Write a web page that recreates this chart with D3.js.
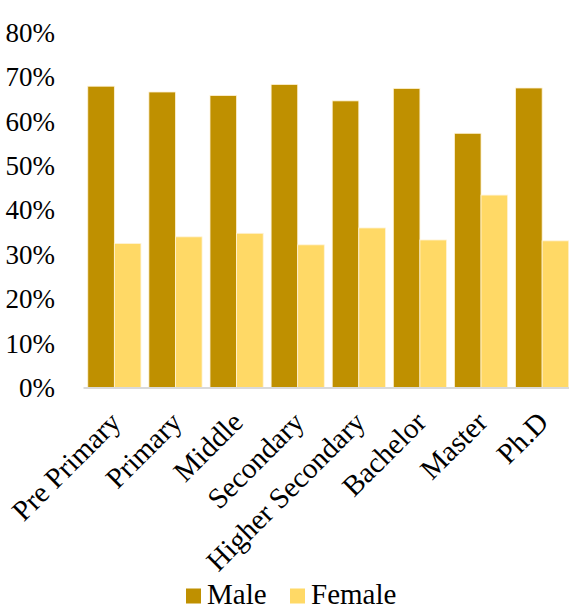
<!DOCTYPE html>
<html>
<head>
<meta charset="utf-8">
<script src="https://cdn.jsdelivr.net/npm/d3@7"></script>
<style>
  html, body { margin: 0; padding: 0; background: #fff; }
  svg { display: block; }
  text { font-family: "Liberation Serif", "Times New Roman", serif; fill: #000; }
</style>
</head>
<body>
<svg id="chart" width="569" height="610"></svg>
<script>
const categories = ["Pre Primary", "Primary", "Middle", "Secondary", "Higher Secondary", "Bachelor", "Master", "Ph.D"];
const maleValues = [0.678, 0.665, 0.657, 0.682, 0.645, 0.673, 0.572, 0.674];
const femaleValues = [0.324, 0.339, 0.347, 0.321, 0.359, 0.332, 0.433, 0.330];
const seriesNames = ["Male", "Female"];
const seriesColors = ["#BF9000", "#FFD966"];
const yTicks = [0, 0.1, 0.2, 0.3, 0.4, 0.5, 0.6, 0.7, 0.8];

const svg = d3.select("#chart");

const x = d3.scaleBand().domain(categories).range([83.5, 573]).paddingInner(0.13).paddingOuter(0.07);
const xSub = d3.scaleBand().domain(seriesNames).range([0, x.bandwidth()]);
const y = d3.scaleLinear().domain([0, 0.8]).range([387.5, 32]);

// Y axis labels
const yAxis = d3.axisLeft(y).tickValues(yTicks).tickFormat(d3.format(".0%")).tickSize(0).tickPadding(0);
const gy = svg.append("g").attr("transform", "translate(55,0)").call(yAxis);
gy.select(".domain").remove();
gy.attr("font-family", null).attr("font-size", null);
gy.selectAll("text").style("font-size", "27px").attr("fill", "#000").attr("dy", "0.34em");

// Bars
const data = categories.map((c, i) => ({ c, vals: [maleValues[i], femaleValues[i]] }));
const groups = svg.append("g").selectAll("g").data(data).join("g")
  .attr("transform", d => `translate(${x(d.c)},0)`);
groups.selectAll("rect").data(d => d.vals.map((v, j) => ({ v, s: seriesNames[j], color: seriesColors[j] })))
  .join("rect")
  .attr("x", d => xSub(d.s))
  .attr("width", xSub.bandwidth())
  .attr("y", d => y(d.v))
  .attr("height", d => y(0) - y(d.v))
  .attr("fill", d => d.color)
  .attr("stroke", "#fff3d6")
  .attr("stroke-width", 0.8);

// X axis line
svg.append("line").attr("x1", 83.5).attr("x2", 569).attr("y1", y(0) + 0.5).attr("y2", y(0) + 0.5)
  .attr("stroke", "#d9d9d9").attr("stroke-width", 2);

// X labels
svg.append("g").selectAll("text").data(categories).join("text")
  .attr("transform", d => `translate(${x(d) + x.bandwidth() / 2 + 8},424) rotate(-45)`)
  .attr("text-anchor", "end")
  .style("font-size", "29px")
  .text(d => d);

// Legend
const legend = svg.append("g");
const legendItems = [{ name: "Male", x: 186, color: seriesColors[0] }, { name: "Female", x: 290, color: seriesColors[1] }];
legendItems.forEach(it => {
  legend.append("rect").attr("x", it.x).attr("y", 588.5).attr("width", 15).attr("height", 15).attr("fill", it.color);
  legend.append("text").attr("x", it.x + 21).attr("y", 604).style("font-size", "29px").text(it.name);
});
</script>
</body>
</html>
